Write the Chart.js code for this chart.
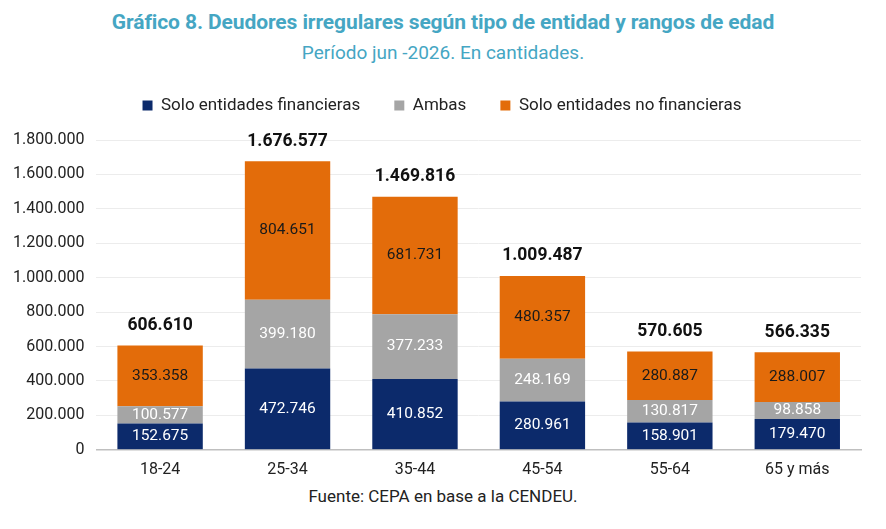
<!DOCTYPE html>
<html lang="es">
<head>
<meta charset="utf-8">
<title>Gráfico 8. Deudores irregulares</title>
<script src="https://cdn.jsdelivr.net/npm/chart.js@4/dist/chart.umd.min.js"></script>
<style>
  html, body { margin: 0; padding: 0; background: #fff; }
  body { width: 886px; height: 529px; position: relative; overflow: hidden; font-family: Roboto, "Noto Sans", sans-serif; }
  #titulo { position: absolute; top: 10px; left: 0; width: 886px; text-align: center; color: #45a6c3; font-weight: 700; font-size: 21px; letter-spacing: -0.1px; }
  #subtitulo { position: absolute; top: 41px; left: 0; width: 886px; text-align: center; color: #45a6c3; font-size: 19px; }
  #grafico { position: absolute; top: 63px; left: 0; width: 886px; height: 420px; }
  #fuente { position: absolute; top: 486px; left: 0; width: 886px; text-align: center; color: #222; font-size: 17px; }
</style>
</head>
<body>
<div id="titulo">Gráfico 8. Deudores irregulares según tipo de entidad y rangos de edad</div>
<div id="subtitulo">Período jun -2026. En cantidades.</div>
<div id="grafico"><canvas id="chart-canvas"></canvas></div>
<div id="fuente">Fuente: CEPA en base a la CENDEU.</div>

<script>
// Datos del gráfico
const rangosEdad = ['18-24', '25-34', '35-44', '45-54', '55-64', '65 y más'];
const soloFinancieras = [152675, 472746, 410852, 280961, 158901, 179470];
const ambas = [100577, 399180, 377233, 248169, 130817, 98858];
const soloNoFinancieras = [353358, 804651, 681731, 480357, 280887, 288007];
const ticksEje = [0, 200000, 400000, 600000, 800000, 1000000, 1200000, 1400000, 1600000, 1800000];

const fmt = v => v.toLocaleString('de-DE');

// Espacio extra debajo de la leyenda y leyenda centrada en la página
const margenLeyenda = {
    id: 'margenLeyenda',
    beforeInit(chart) {
        const fitOriginal = chart.legend.fit;
        chart.legend.fit = function () {
            fitOriginal.bind(chart.legend)();
            this.height += 16;
        };
    },
    afterLayout(chart) {
        chart.legend.left += 11;
        chart.legend.right += 11;
    }
};

// Etiquetas dentro de cada segmento y totales arriba
const etiquetasPlugin = {
    id: 'etiquetas',
    afterDatasetsDraw(chart) {
        const ctx = chart.ctx;
        ctx.save();
        ctx.textAlign = 'center';
        ctx.textBaseline = 'middle';
        chart.data.datasets.forEach((ds, i) => {
            const meta = chart.getDatasetMeta(i);
            ctx.font = '15.5px Roboto';
            ctx.fillStyle = ds.labelColor;
            meta.data.forEach((el, j) => {
                ctx.fillText(fmt(ds.data[j]), el.x, (el.y + el.base) / 2);
            });
        });
        // Totales
        const ultima = chart.getDatasetMeta(chart.data.datasets.length - 1);
        ctx.font = 'bold 17.5px Roboto';
        ctx.fillStyle = '#111';
        ultima.data.forEach((el, j) => {
            const total = chart.data.datasets.reduce((s, ds) => s + ds.data[j], 0);
            ctx.fillText(fmt(total), el.x, el.y - 20);
        });
        ctx.restore();
    }
};

const ctx = document.getElementById('chart-canvas').getContext('2d');
new Chart(ctx, {
    type: 'bar',
    data: {
        labels: rangosEdad,
        datasets: [{
            label: 'Solo entidades financieras',
            data: soloFinancieras,
            backgroundColor: '#0c2a6b',
            labelColor: '#ffffff'
        }, {
            label: 'Ambas',
            data: ambas,
            backgroundColor: '#a5a5a5',
            labelColor: '#ffffff'
        }, {
            label: 'Solo entidades no financieras',
            data: soloNoFinancieras,
            backgroundColor: '#e36c0a',
            labelColor: '#1a1a1a'
        }]
    },
    options: {
        responsive: true,
        maintainAspectRatio: false,
        animation: false,
        layout: { padding: { left: 1, right: 25, top: 0, bottom: 0 } },
        datasets: { bar: { barPercentage: 1, categoryPercentage: 0.67 } },
        plugins: {
            legend: {
                position: 'top',
                labels: {
                    boxWidth: 10,
                    boxHeight: 10,
                    padding: 34,
                    color: '#222',
                    font: { family: 'Roboto', size: 17 }
                }
            },
            tooltip: { enabled: false }
        },
        scales: {
            x: {
                stacked: true,
                grid: { display: false },
                border: { display: true, color: '#bfbfbf', width: 1.5 },
                ticks: { color: '#222', padding: 3, font: { family: 'Roboto', size: 16 } }
            },
            y: {
                stacked: true,
                min: 0,
                max: 1800000,
                afterBuildTicks: axis => { axis.ticks = ticksEje.map(v => ({ value: v })); },
                grid: { color: '#ececec', drawTicks: false },
                border: { display: false },
                ticks: { color: '#222', padding: 12, font: { family: 'Roboto', size: 16 }, callback: v => fmt(v) }
            }
        }
    },
    plugins: [margenLeyenda, etiquetasPlugin]
});
</script>
</body>
</html>
